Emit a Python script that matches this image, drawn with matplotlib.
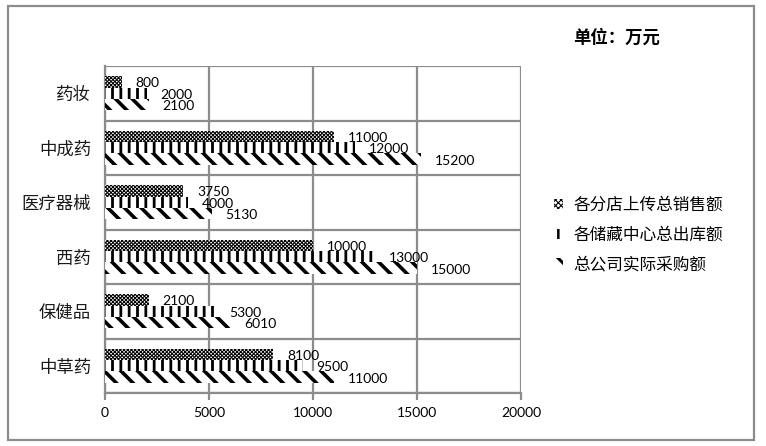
import matplotlib
matplotlib.use('Agg')
import matplotlib.pyplot as plt
import numpy as np
from matplotlib.patches import Rectangle, Patch

plt.rcParams['font.family'] = ['Noto Sans CJK SC', 'DejaVu Sans']

# data
categories = ['药妆', '中成药', '医疗器械', '西药', '保健品', '中草药']
series_names = ['各分店上传总销售额', '各储藏中心总出库额', '总公司实际采购额']
sales = [800, 11000, 3750, 10000, 2100, 8100]
outbound = [2000, 12000, 4000, 13000, 5300, 9500]
purchase = [2100, 15200, 5130, 15000, 6010, 11000]
xticks = [0, 5000, 10000, 15000, 20000]

series = [sales, outbound, purchase]
hatches = ['xxxxxxxxx', '||', '\\\\']
hatch_lw = [0.75, 2.0, 2.6]

fig = plt.figure(figsize=(7.66, 4.46), dpi=100)
ax = fig.add_axes([105/766, 53/446, 416/766, 327/446])

ind = np.arange(len(categories))
h = 0.21
for k, vals in enumerate(series):
    plt.rcParams['hatch.linewidth'] = hatch_lw[k]
    bars = ax.barh(ind + (k - 1) * h, vals, h, color='white', edgecolor='black',
                   hatch=hatches[k], linewidth=0, zorder=3)
    for b in bars:
        if hasattr(b, 'set_hatch_linewidth'):
            b.set_hatch_linewidth(hatch_lw[k])
    for y, v in zip(ind + (k - 1) * h, vals):
        ax.annotate(str(v), (v, y), xytext=(10, -1), textcoords='offset points',
                    ha='left', va='center', fontsize=10, family='Lato', zorder=4)

ax.set_xlim(0, 20000)
ax.set_ylim(len(categories) - 0.5, -0.5)
ax.set_xticks(xticks)
ax.set_xticklabels([str(t) for t in xticks], family='Lato', fontsize=10)
ax.set_yticks(ind)
ax.set_yticklabels(categories, fontsize=12.5, color='#1a1a1a')
ax.set_yticks(np.arange(-0.5, len(categories), 1), minor=True)
ax.grid(axis='x', color='#8c8c8c', lw=1.6, zorder=1)
ax.grid(axis='y', which='minor', color='#8c8c8c', lw=1.6, zorder=1)
ax.tick_params(axis='y', which='both', length=0, pad=10)
ax.tick_params(axis='x', length=5, width=1.6, color='#8c8c8c', pad=5)
for s in ['top', 'right']:
    ax.spines[s].set_visible(False)
ax.spines['left'].set_color('#8c8c8c')
ax.spines['left'].set_linewidth(1.6)
ax.spines['bottom'].set_color('#8c8c8c')
ax.spines['bottom'].set_linewidth(1.6)

legend_hatches = ['xxxxxx', '|', '\\']
legend_lw = [0.8, 1.8, 2.2]
handles = []
for k in range(3):
    plt.rcParams['hatch.linewidth'] = legend_lw[k]
    p = Patch(facecolor='white', edgecolor='black', hatch=legend_hatches[k], linewidth=0)
    handles.append(p)
leg = fig.legend(handles, series_names, loc='center left',
                 bbox_to_anchor=(539/766, 1 - 235/446),
                 frameon=False, fontsize=12, handlelength=0.55, handleheight=0.55,
                 handletextpad=0.6, labelspacing=0.75)
for k, p in enumerate(leg.get_patches()):
    if hasattr(p, 'set_hatch_linewidth'):
        p.set_hatch_linewidth(legend_lw[k])

fig.text(617/766, 1 - 38/446, '单位：万元', ha='center', va='center', fontsize=12.5,
         fontweight='bold')

fig.add_artist(Rectangle((8/766, 6/446), 746/766, 434/446, transform=fig.transFigure,
                         fill=False, edgecolor='#8c8c8c', lw=1.6))

fig.savefig('out.png', dpi=100)
